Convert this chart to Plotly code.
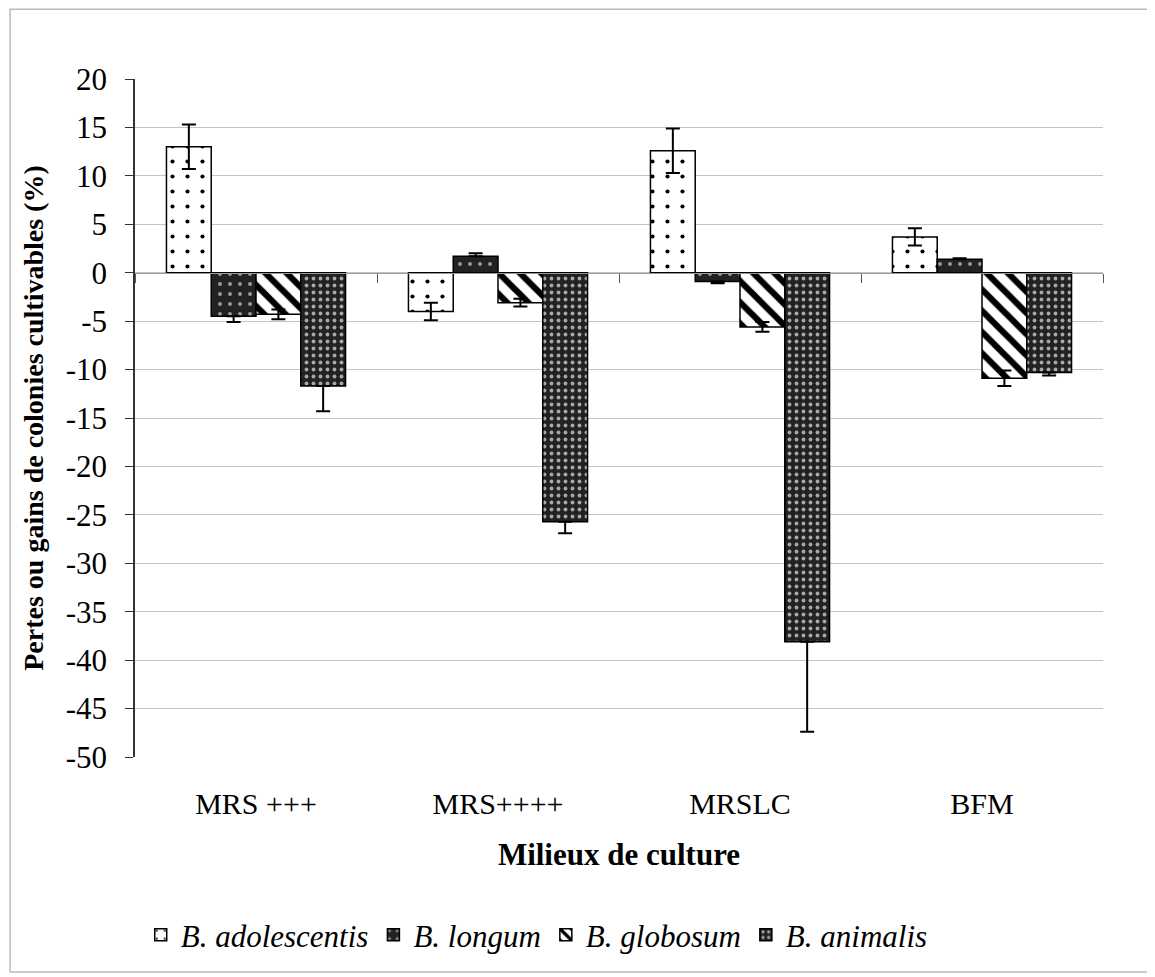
import plotly.graph_objects as go

categories = ["MRS +++", "MRS++++", "MRSLC", "BFM"]
series_names = ["B. adolescentis", "B. longum", "B. globosum", "B. animalis"]
adolescentis = [13.0, -4.0, 12.6, 3.7]
adolescentis_err = [2.3, 0.9, 2.3, 0.9]
longum = [-4.5, 1.7, -0.9, 1.4]
longum_err = [0.6, 0.3, 0.2, 0.1]
globosum = [-4.3, -3.1, -5.6, -10.9]
globosum_err = [0.5, 0.4, 0.5, 0.8]
animalis = [-11.7, -25.7, -38.1, -10.3]
animalis_err = [2.6, 1.2, 9.3, 0.3]
y_ticks = list(range(20, -55, -5))
y_ticktext = [str(v) for v in y_ticks]

values = [adolescentis, longum, globosum, animalis]
errors = [adolescentis_err, longum_err, globosum_err, animalis_err]
dark = "#222222"
patterns = [
    dict(shape=".", fgcolor="black", bgcolor="white", size=15, solidity=0.06, fillmode="replace"),
    dict(shape=".", fgcolor="#9a9a9a", bgcolor=dark, size=10, solidity=0.12, fillmode="replace"),
    dict(shape="\\", fgcolor="black", bgcolor="white", size=15, solidity=0.42, fillmode="replace"),
    dict(shape=".", fgcolor="#a8a8a8", bgcolor=dark, size=7, solidity=0.24, fillmode="replace"),
]
colors = ["white", dark, "white", dark]
hide_inner = [False, True, False, True]  # error-bar part inside dark bars is not visible

fig = go.Figure()
for name, vals, errs, pat, col, hide in zip(series_names, values, errors, patterns, colors, hide_inner):
    if hide:
        plus = [e if v > 0 else 0 for v, e in zip(vals, errs)]
        minus = [e if v < 0 else 0 for v, e in zip(vals, errs)]
    else:
        plus = errs
        minus = errs
    fig.add_trace(go.Bar(
        x=categories, y=vals, name=name,
        marker=dict(color=col, pattern=pat, line=dict(color="black", width=1.5)),
        error_y=dict(type="data", symmetric=False, array=plus, arrayminus=minus, visible=True,
                     color="black", thickness=2, width=7),
    ))

# helper trace for the axis line at zero with category-boundary ticks
fig.add_trace(go.Scatter(x=[-0.5, 3.5], y=[0, 0], xaxis="x2", mode="lines",
                         line=dict(color="rgba(0,0,0,0)"), showlegend=False, hoverinfo="skip"))

serif = "Liberation Serif"
fig.update_layout(
    width=1155, height=977,
    margin=dict(l=127, r=60, t=71, b=228),
    paper_bgcolor="white", plot_bgcolor="white",
    barmode="group", bargap=0.26, bargroupgap=0,
    font=dict(family=serif, color="black"),
    showlegend=True,
    legend=dict(orientation="h", x=0.415, xanchor="center", y=-0.2625, yanchor="middle",
                font=dict(family=serif, size=31, style="italic"), itemwidth=30,
                traceorder="normal"),
    xaxis=dict(showgrid=False, showline=False, ticks="outside", ticklen=20,
               tickcolor="rgba(0,0,0,0)", tickfont=dict(size=30, family=serif),
               title=dict(text="<b>Milieux de culture</b>", font=dict(size=31, family=serif), standoff=24)),
    xaxis2=dict(overlaying="x", anchor="free", position=50/70, range=[-0.5, 3.5],
                tickvals=[-0.5, 0.5, 1.5, 2.5, 3.5], ticks="outside", ticklen=9,
                tickcolor="#555555", showticklabels=False, showline=True, linecolor="#999999",
                linewidth=1, showgrid=False, zeroline=False),
    yaxis=dict(range=[-50, 20], tickvals=y_ticks, ticktext=y_ticktext,
               showgrid=True, gridcolor="#c4c4c4", gridwidth=1,
               zeroline=False, showline=True, linecolor="#333333", linewidth=1.5,
               ticks="outside", ticklen=8, tickcolor="#333333", ticklabelstandoff=12,
               tickfont=dict(size=31, family=serif),
               title=dict(text="<b>Pertes ou gains de colonies cultivables (%)</b>",
                          font=dict(size=28, family=serif), standoff=14)),
    shapes=[dict(type="rect", xref="paper", yref="paper",
                 x0=-0.129, x1=1.0517, y0=-0.317, y1=1.103,
                 line=dict(color="#bbbbbb", width=1.5), fillcolor="rgba(0,0,0,0)", layer="below")],
)

fig.write_html("out.html")
